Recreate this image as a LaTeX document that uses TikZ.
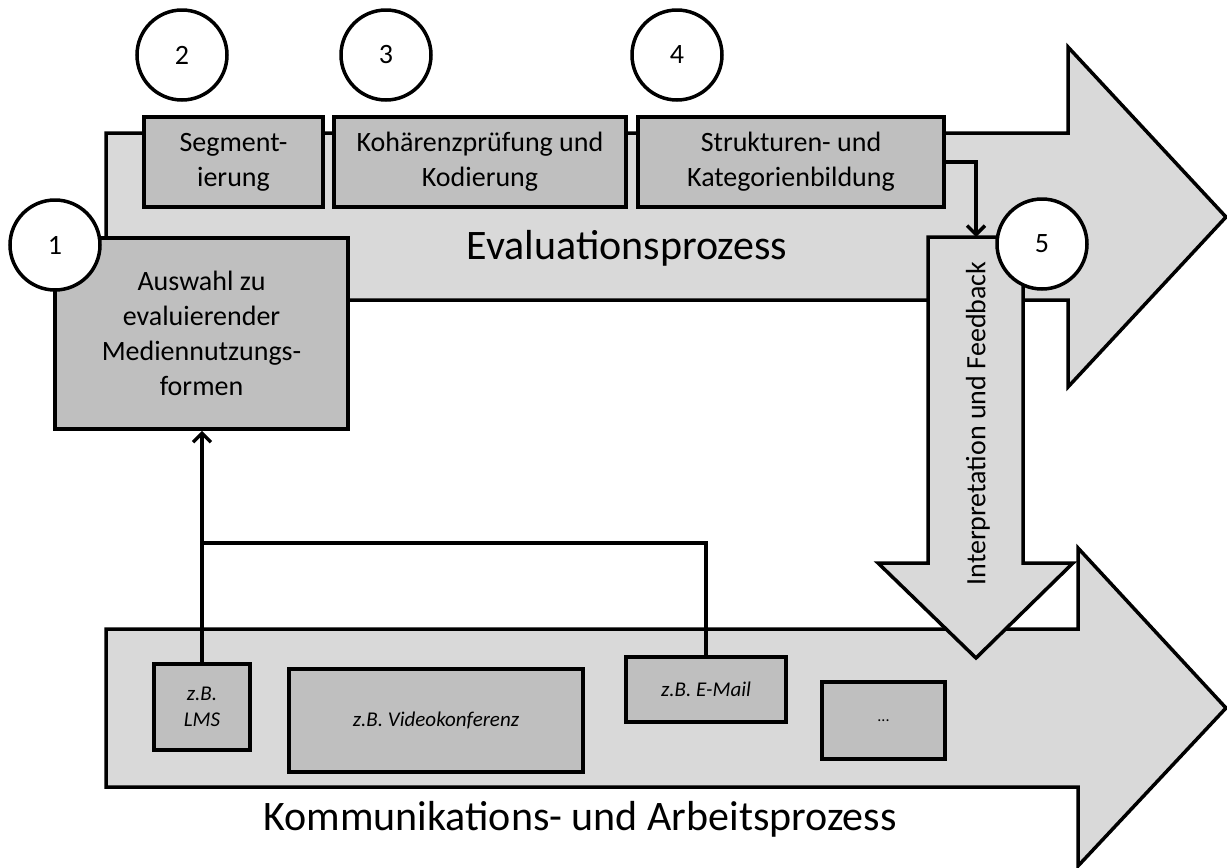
\documentclass[tikz,border=0pt]{standalone}
\usepackage{fontspec}
\setmainfont{Carlito}
\usetikzlibrary{arrows.meta}
\definecolor{arrowgray}{HTML}{D9D9D9}
\definecolor{boxgray}{HTML}{BFBFBF}
\begin{document}
\begin{tikzpicture}[x=1pt,y=-1pt,
  bigarrow/.style={draw=black,fill=arrowgray,line width=3.5pt,line join=miter},
  stepbox/.style={draw=black,fill=boxgray,line width=3.5pt,inner sep=0pt,align=center,font=\fontsize{28}{35}\selectfont},
  mediabox/.style={draw=black,fill=boxgray,line width=3.5pt,inner sep=0pt,align=center,font=\fontsize{21}{26}\selectfont\itshape},
  numcircle/.style={circle,draw=black,fill=white,line width=3.5pt,minimum size=90pt,inner sep=0pt,font=\fontsize{28}{34}\selectfont},
  conn/.style={line width=3.5pt,-{Straight Barb[length=9pt,width=18pt]}},
  plainline/.style={line width=3.5pt},
  biglabel/.style={inner sep=0pt,anchor=base,font=\fontsize{42}{50}\selectfont}
]
\useasboundingbox (0,0) rectangle (1227,868);

% bottom process arrow
\draw[bigarrow] (106,629) -- (1078,629) -- (1078,548) -- (1226,708) -- (1078,866) -- (1078,787) -- (106,787) -- cycle;
% top process arrow
\draw[bigarrow] (106,133) -- (1068,133) -- (1068,47) -- (1226,217) -- (1068,387) -- (1068,300) -- (106,300) -- cycle;
% interpretation arrow
\draw[bigarrow] (928,237) -- (1023,237) -- (1023,563) -- (1073,563) -- (976,658) -- (878,563) -- (928,563) -- cycle;
\coordinate (dtop) at (976,237);
\node[rotate=90,inner sep=0pt,font=\fontsize{28}{34}\selectfont] (interp) at (978,423.5) {Interpretation und Feedback};

\node[biglabel] (evallabel) at (627,259) {Evaluationsprozess};
\node[biglabel] (kommlabel) at (580,830) {Kommunikations- und Arbeitsprozess};

% step boxes
\node[stepbox,minimum width=179pt,minimum height=90pt] (box2) at (233.5,162) {Segment-\\ierung};
\node[stepbox,minimum width=292pt,minimum height=90pt] (box3) at (480,162) {Kohärenzprüfung und\\Kodierung};
\node[stepbox,minimum width=306pt,minimum height=90pt] (box4) at (791,162) {Strukturen- und\\Kategorienbildung};
\node[stepbox,minimum width=293pt,minimum height=191pt] (box1) at (201.5,333.5) {Auswahl zu\\evaluierender\\Mediennutzungs-\\formen};

% media boxes
\node[mediabox,minimum width=96pt,minimum height=86pt] (lms) at (202,707) {z.B.\\LMS};
\node[mediabox,minimum width=294pt,minimum height=103pt] (video) at (436,720.5) {z.B. Videokonferenz};
\node[mediabox,minimum width=160pt,minimum height=65pt] (mail) at (706,689.5) {z.B. E-Mail};
\node[mediabox,minimum width=123pt,minimum height=77pt,font=\fontsize{16}{20}\selectfont] (more) at (883.5,720.5) {...};

% connectors
\coordinate (junction) at (202,543);
\draw[plainline] (mail.north) |- (junction);
\draw[conn] (lms.north) -- (lms.north |- box1.south);
\draw[conn] (box4.east) -| (dtop);

% number circles
\node[numcircle] (c1) at (55,245) {1};
\node[numcircle] (c2) at (182,55) {2};
\node[numcircle] (c3) at (386,55) {3};
\node[numcircle] (c4) at (677,55) {4};
\node[numcircle] (c5) at (1042,244) {5};
\end{tikzpicture}
\end{document}
